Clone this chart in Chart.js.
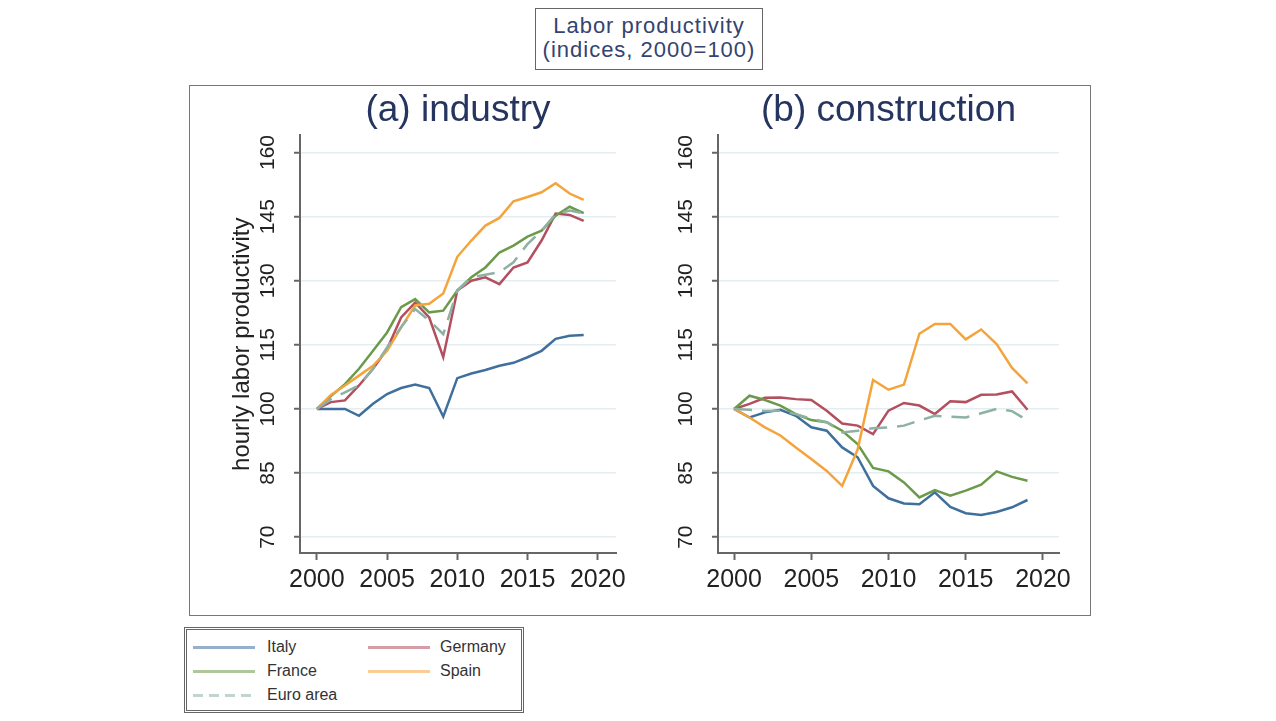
<!DOCTYPE html>
<html>
<head>
<meta charset="utf-8">
<script src="https://cdn.jsdelivr.net/npm/chart.js@4"></script>
<style>
  body { margin: 0; width: 1276px; height: 721px; background: #fff; position: relative; overflow: hidden;
         font-family: 'Liberation Sans', Arial, sans-serif; }
  #titleBox { position: absolute; left: 535px; top: 8px; width: 228px; height: 62px; box-sizing: border-box;
              border: 1.5px solid #666; color: #34436f; font-size: 22px; letter-spacing: 1px;
              text-align: center; line-height: 24px; padding-top: 5px; }
  #panelBox { position: absolute; left: 189px; top: 85px; width: 902px; height: 531px; box-sizing: border-box;
              border: 1.5px solid #777; }
  canvas { position: absolute; top: 86px; }
  #chartA { left: 190px; }
  #chartB { left: 640px; }
  #legend { position: absolute; left: 184px; top: 627px; width: 340px; height: 86px; box-sizing: border-box;
            border: 3px double #666; }
  .lgLine { position: absolute; width: 62px; height: 2.5px; opacity: 0.55; }
  .lgText { position: absolute; font-size: 16px; color: #333; line-height: 18px; }
</style>
</head>
<body>
<div id="titleBox">Labor productivity<br>(indices, 2000=100)</div>
<div id="panelBox"></div>
<canvas id="chartA" width="445" height="528"></canvas>
<canvas id="chartB" width="445" height="528"></canvas>
<div id="legend"></div>

<script>
// データ
const years = [2000, 2001, 2002, 2003, 2004, 2005, 2006, 2007, 2008, 2009,
               2010, 2011, 2012, 2013, 2014, 2015, 2016, 2017, 2018, 2019];
const seriesNames = ['Italy', 'Germany', 'France', 'Spain', 'Euro area'];
const seriesColors = ['#3f6f9d', '#b34f5f', '#6b9a4a', '#f4a43a', '#8db1a3'];
const yTicks = [70, 85, 100, 115, 130, 145, 160];
const xTicks = [2000, 2005, 2010, 2015, 2020];

// (a) industry
const italyIndustry   = [100, 100, 100, 98.4, 101.2, 103.5, 104.9, 105.7, 104.9, 98.2, 107.2, 108.3, 109.1, 110.1, 110.8, 112.1, 113.6, 116.4, 117.1, 117.3];
const germanyIndustry = [100, 101.6, 102.0, 105.5, 109.4, 114.0, 121.4, 124.9, 121.4, 112.1, 127.7, 130.0, 130.8, 129.2, 133.1, 134.3, 139.4, 145.7, 145.4, 144.0];
const franceIndustry  = [100, 103.0, 105.8, 109.4, 113.6, 117.9, 123.8, 125.7, 122.6, 123.0, 127.7, 130.8, 133.1, 136.6, 138.2, 140.3, 141.7, 145.2, 147.3, 145.8];
const spainIndustry   = [100, 103.3, 105.5, 107.8, 110.1, 113.6, 119.1, 124.2, 124.6, 127.0, 135.6, 139.4, 142.9, 144.7, 148.6, 149.6, 150.7, 152.8, 150.4, 148.9];
const euroIndustry    = [100, 102.3, 103.9, 105.5, 109.4, 114.4, 119.1, 123.4, 120.7, 117.5, 127.7, 130.8, 131.4, 132.0, 134.3, 138.6, 141.7, 145.6, 146.4, 145.8];

// (b) construction
const italyConstruction   = [100, 98.0, 99.2, 99.8, 98.4, 95.7, 94.9, 91.0, 88.7, 82.0, 79.1, 77.9, 77.7, 80.5, 77.1, 75.6, 75.2, 75.9, 77.0, 78.7];
const germanyConstruction = [100, 101.2, 102.6, 102.7, 102.3, 102.1, 99.6, 96.6, 96.1, 94.1, 99.6, 101.4, 100.8, 98.8, 101.8, 101.6, 103.3, 103.4, 104.1, 99.8];
const franceConstruction  = [100, 103.1, 102.1, 100.8, 98.8, 97.4, 96.9, 94.9, 91.8, 86.2, 85.4, 82.8, 79.3, 81.0, 79.7, 80.9, 82.3, 85.4, 84.1, 83.2];
const spainConstruction   = [100, 98.0, 95.7, 93.8, 91.0, 88.3, 85.5, 82.0, 90.5, 106.8, 104.5, 105.7, 117.6, 119.9, 119.9, 116.3, 118.6, 115.2, 109.6, 106.0];
const euroConstruction    = [100, 99.8, 99.5, 99.6, 98.8, 97.7, 96.9, 94.5, 94.9, 95.5, 95.7, 96.1, 97.3, 98.4, 98.2, 98.0, 99.0, 100.0, 99.5, 97.3];

Chart.defaults.font.family = "'Liberation Sans', Arial, sans-serif";

function makePanel(id, title, seriesData, xMin, xMax, yAxisWidth, padRight, showYTitle) {
  new Chart(document.getElementById(id), {
    type: 'line',
    data: {
      datasets: seriesData.map((vals, i) => ({
        label: seriesNames[i],
        data: years.map((yr, k) => ({ x: yr, y: vals[k] })),
        borderColor: seriesColors[i],
        borderWidth: 2.5,
        borderDash: i === 4 ? [18, 10] : [],
        pointRadius: 0,
        tension: 0,
        order: seriesNames.length - i
      }))
    },
    options: {
      responsive: false,
      animation: false,
      layout: { padding: { left: 0, right: padRight, top: 0, bottom: 0 } },
      plugins: {
        legend: { display: false },
        tooltip: { enabled: false },
        title: {
          display: true,
          fullSize: false,   // プロット領域の上に中央寄せ
          text: title,
          color: '#26355f',
          font: { size: 37, weight: 'normal' },
          padding: { top: 3, bottom: 2 }
        }
      },
      scales: {
        x: {
          type: 'linear',
          min: xMin,
          max: xMax,
          afterBuildTicks: s => { s.ticks = xTicks.map(v => ({ value: v })); },
          afterFit: s => { s.height = 61; },
          grid: { drawOnChartArea: false, tickLength: 7, tickColor: '#666', tickWidth: 2 },
          border: { color: '#666', width: 2 },
          ticks: { font: { size: 25 }, color: '#222', padding: 5, maxRotation: 0, autoSkip: false,
                   callback: v => String(v) }
        },
        y: {
          min: 66.3,
          max: 164,
          afterBuildTicks: s => { s.ticks = yTicks.map(v => ({ value: v })); },
          afterFit: s => { s.width = yAxisWidth; },
          grid: { color: '#e4eef1', lineWidth: 1.5, tickLength: 6, tickColor: '#666', tickWidth: 2 },
          border: { color: '#666', width: 2 },
          ticks: { font: { size: 21 }, color: '#222', padding: 8, minRotation: 90, maxRotation: 90,
                   crossAlign: 'center', autoSkip: false, callback: v => String(v) },
          title: { display: showYTitle, text: 'hourly labor productivity', color: '#222',
                   font: { size: 24 }, padding: { top: 38, bottom: 0 } }
        }
      }
    }
  });
}

makePanel('chartA', '(a) industry',
  [italyIndustry, germanyIndustry, franceIndustry, spainIndustry, euroIndustry],
  1998.8, 2021.3, 110, 19, true);
makePanel('chartB', '(b) construction',
  [italyConstruction, germanyConstruction, franceConstruction, spainConstruction, euroConstruction],
  1998.96, 2021.04, 78, 26, false);

// 凡例
const legend = document.getElementById('legend');
seriesNames.forEach((name, i) => {
  const col = i % 2, row = Math.floor(i / 2);
  const line = document.createElement('div');
  line.className = 'lgLine';
  line.style.left = (col === 0 ? 6 : 181) + 'px';
  line.style.top = (16 + row * 24) + 'px';
  line.style.background = i === 4
    ? 'repeating-linear-gradient(to right, ' + seriesColors[i] + ' 0 10px, transparent 10px 16px)'
    : seriesColors[i];
  legend.appendChild(line);
  const txt = document.createElement('div');
  txt.className = 'lgText';
  txt.style.left = (col === 0 ? 80 : 253) + 'px';
  txt.style.top = (8 + row * 24) + 'px';
  txt.textContent = name;
  legend.appendChild(txt);
});
</script>
</body>
</html>
